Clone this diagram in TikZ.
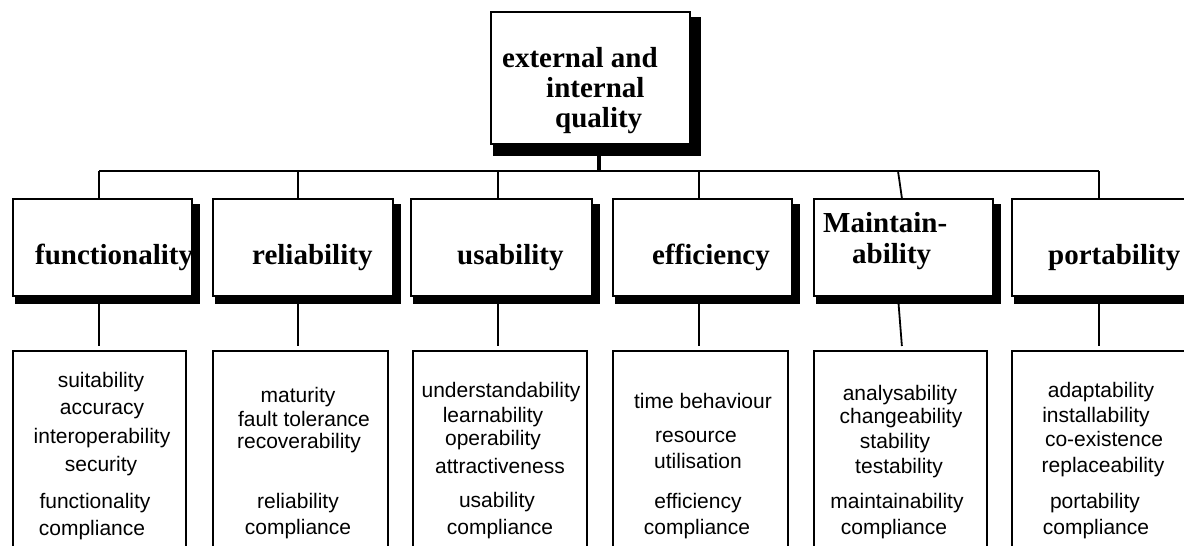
\documentclass[tikz,border=0pt]{standalone}
\usepackage{fontspec}
\setmainfont{Liberation Serif}
\newfontfamily\itemfont{Liberation Sans}
\usetikzlibrary{backgrounds}
\begin{document}
\begin{tikzpicture}[x=1pt,y=-1pt,
  frame/.style={draw=black, line width=1.8pt, fill=white, inner sep=0pt, anchor=north west},
  head/.style={font=\bfseries\fontsize{29}{30}\selectfont, inner sep=0pt, anchor=base west},
  item/.style={font=\itemfont\fontsize{21}{25}\selectfont, inner sep=0pt, anchor=base},
  link/.style={line width=1.8pt}]
\useasboundingbox (0,0) rectangle (1184,546);
\clip (0,0) rectangle (1184,546);

% root box
\node[frame, minimum width=199pt, minimum height=132pt] (top) at (490,11) {};

% characteristic boxes
\node[frame, minimum width=179pt, minimum height=97pt] (h1) at (12,198) {};
\node[frame, minimum width=180pt, minimum height=97pt] (h2) at (212,198) {};
\node[frame, minimum width=181pt, minimum height=97pt] (h3) at (410,198) {};
\node[frame, minimum width=179pt, minimum height=97pt] (h4) at (612,198) {};
\node[frame, minimum width=179pt, minimum height=97pt] (h5) at (813,198) {};
\node[frame, minimum width=190pt, minimum height=97pt] (h6) at (1011,198) {};

% sub-characteristic boxes (open at the bottom edge)
\node[frame, minimum width=173pt, minimum height=220pt] (l1) at (12,350) {};
\node[frame, minimum width=175pt, minimum height=220pt] (l2) at (212,350) {};
\node[frame, minimum width=174pt, minimum height=220pt] (l3) at (412,350) {};
\node[frame, minimum width=175pt, minimum height=220pt] (l4) at (612,350) {};
\node[frame, minimum width=173pt, minimum height=220pt] (l5) at (813,350) {};
\node[frame, minimum width=190pt, minimum height=220pt] (l6) at (1011,350) {};

% drop shadows
\begin{scope}[on background layer]
  \fill ([shift={(3,6)}]top.north west) rectangle ([shift={(10,11)}]top.south east);
  \foreach \b in {h1,h2,h3,h4,h5,h6}
    \fill ([shift={(3,6)}]\b.north west) rectangle ([shift={(7,7)}]\b.south east);
\end{scope}

% connectors
\coordinate (d1) at (99,171);
\coordinate (d2) at (298,171);
\coordinate (d3) at (498,171);
\coordinate (d4) at (699,171);
\coordinate (d5) at (898,171);
\coordinate (d6) at (1099,171);
\draw[line width=3.2pt] ([xshift=8.5pt,yshift=-11pt]top.south) -- ([xshift=8.5pt]top.south |- d1);
\draw[link] (d1) -- (d6);
\foreach \i in {1,2,3,4,6}
  \draw[link] (d\i) -- (d\i |- h\i.north);
\draw[link] (d5) -- ([xshift=-1.5pt]h5.north);
\foreach \i in {1,2,3,4,6}
  \draw[link] (d\i |- h\i.south) -- ([yshift=4pt]l\i.north -| d\i);
\draw[link] (d5 |- h5.south) -- ([xshift=1.5pt,yshift=4pt]l5.north);

% headings
\node[head] (tq1) at (502,67) {external and};
\node[head] (tq2) at (546,97) {internal};
\node[head] (tq3) at (555,127) {quality};
\node[head] (t1) at (35,264) {functionality};
\node[head] (t2) at (252,264) {reliability};
\node[head] (t3) at (457,264) {usability};
\node[head] (t4) at (652,264) {efficiency};
\node[head] (t5a) at (823,232) {Maintain-};
\node[head] (t5b) at (852,263) {ability};
\node[head] (t6) at (1048,264) {portability};

% sub-characteristics
\foreach \x/\y/\t [count=\i] in {
  101/387/suitability, 102/414/accuracy, 102/443/interoperability, 101/471/security,
  95/508/functionality, 92/535/compliance,
  298/402/maturity, 304/426/fault tolerance, 299/448/recoverability,
  298/508/reliability, 298/534/compliance,
  501/397/understandability, 493/422/learnability, 493/445/operability, 500/473/attractiveness,
  497/507/usability, 500/534/compliance,
  703/408/time behaviour, 696/442/resource, 698/468/utilisation,
  698/508/efficiency, 697/534/compliance,
  900/400/analysability, 901/423/changeability, 895/448/stability, 899/473/testability,
  897/508/maintainability, 894/534/compliance,
  1101/397/adaptability, 1096/422/installability, 1104/446/co-existence, 1103/472/replaceability,
  1095/508/portability, 1096/534/compliance}
  \node[item] (s\i) at (\x,\y) {\t};
\end{tikzpicture}
\end{document}
